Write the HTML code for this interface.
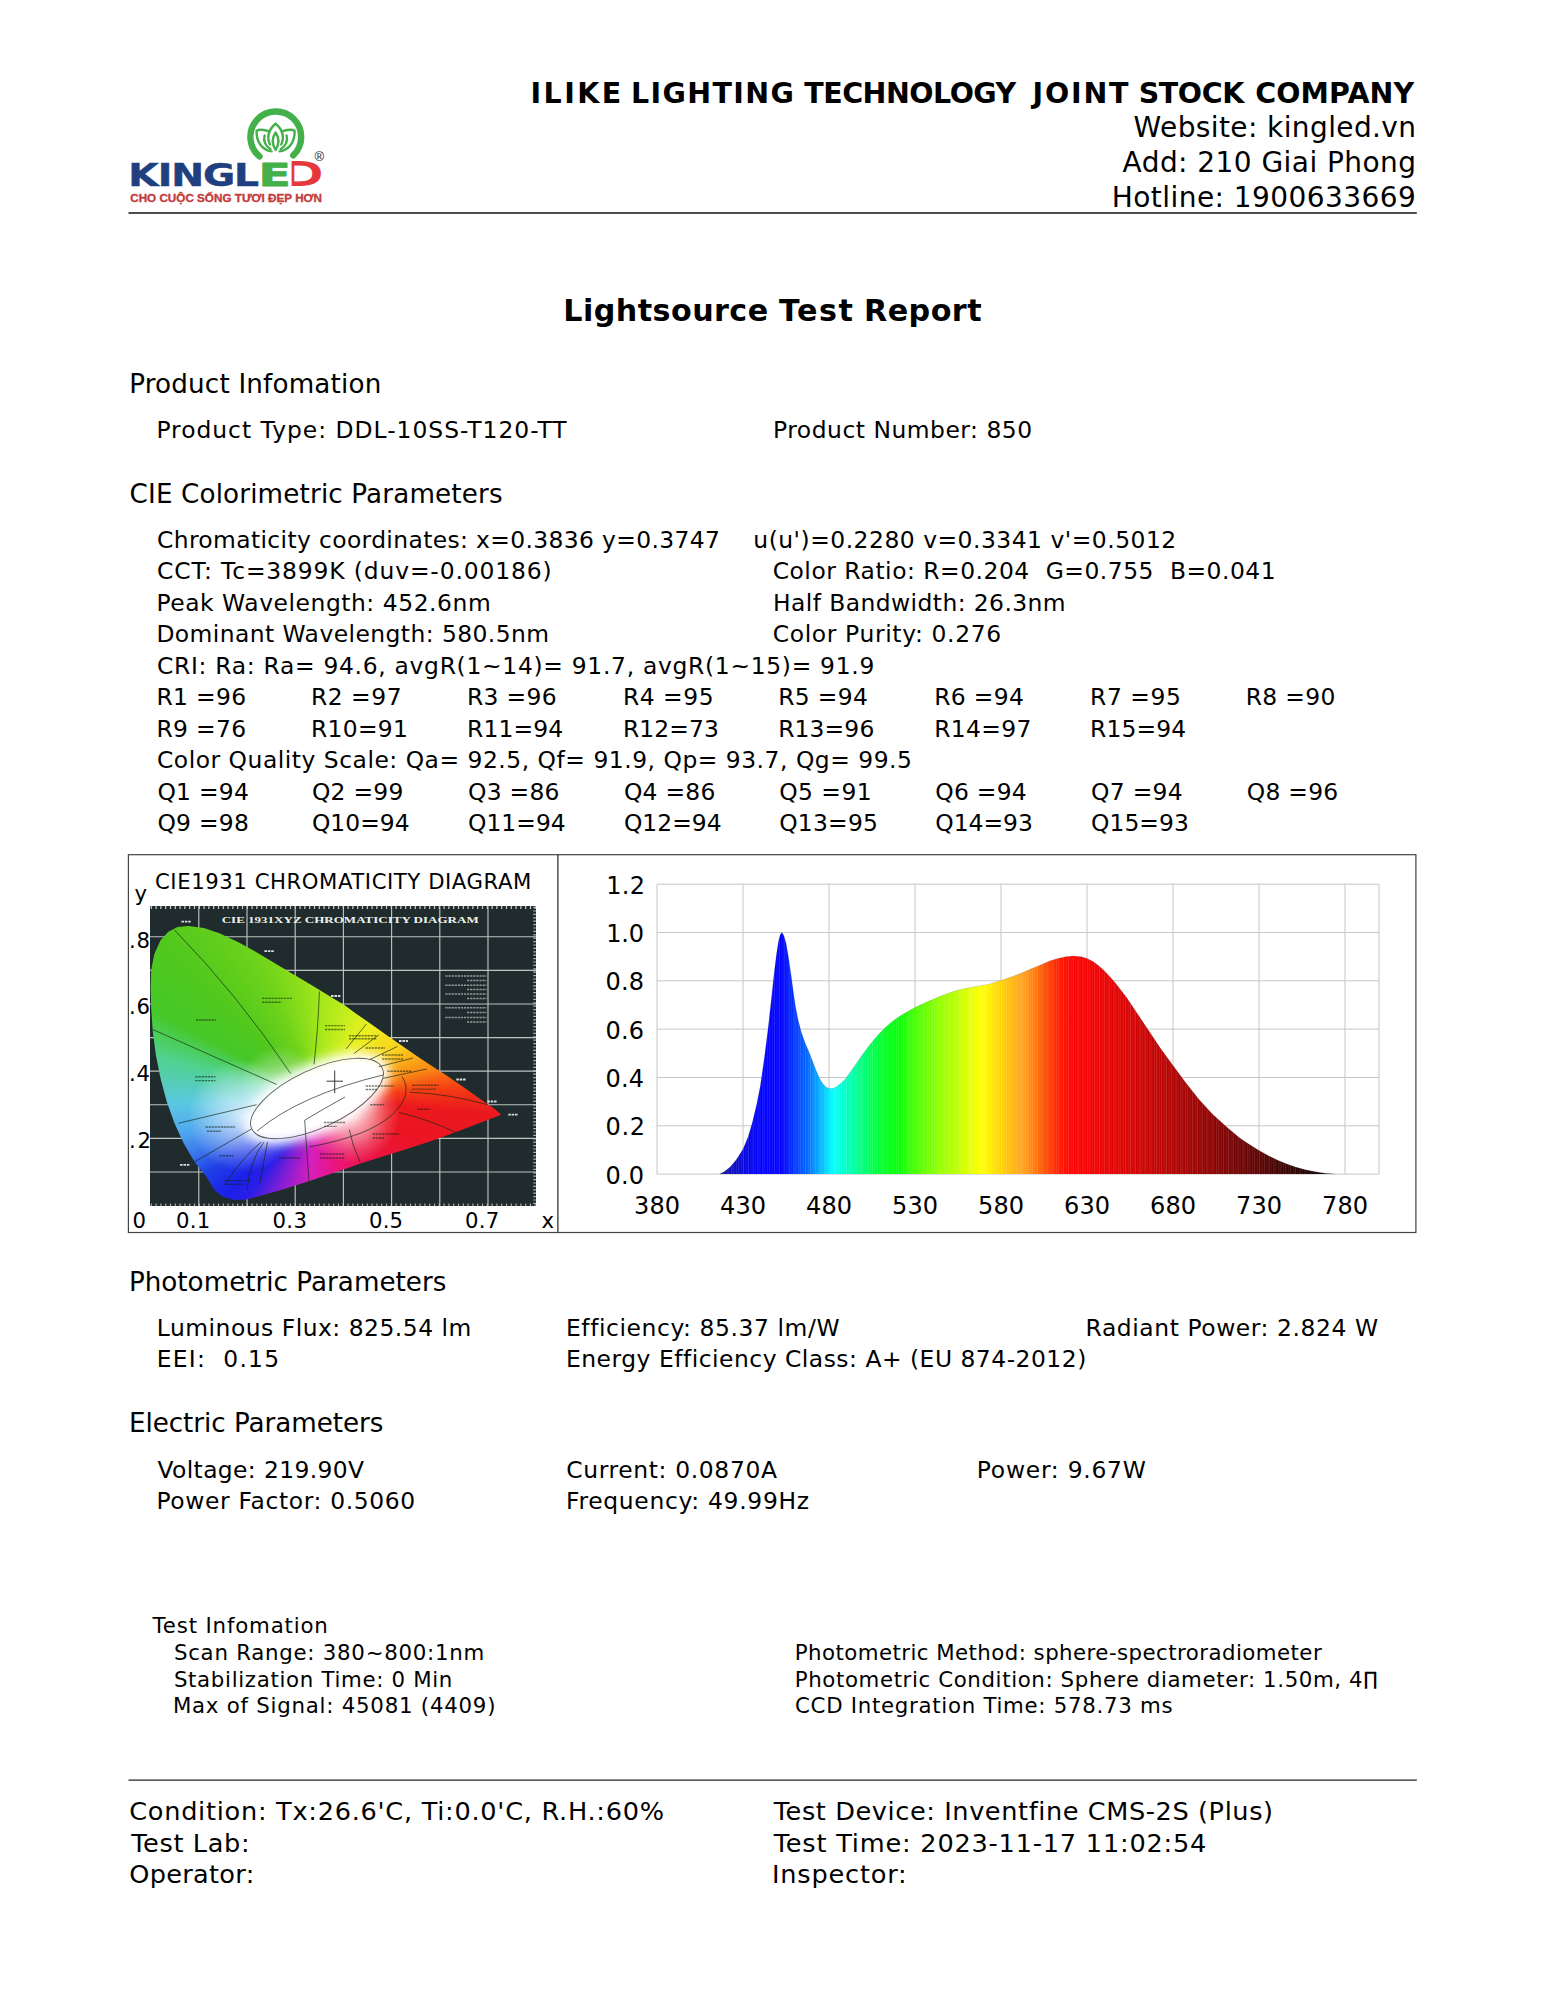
<!DOCTYPE html>
<html lang="en"><head><meta charset="utf-8"><title>Lightsource Test Report</title>
<style>
html,body{margin:0;padding:0;background:#fff}
body{width:1545px;height:2000px;position:relative;overflow:hidden;font-family:'DejaVu Sans','Liberation Sans',sans-serif}
#pg{position:absolute;left:0;top:0}
#pg{font-family:'DejaVu Sans','Liberation Sans',sans-serif}#pg text{white-space:pre}
#cie{position:absolute;left:150.3px;top:906.0px;width:386.0px;height:300.3px;background:#1f2b2c;overflow:hidden}#hs{position:absolute;left:0;top:0;width:100%;height:100%;clip-path:polygon(83.7px 294.0px,72.2px 290.5px,64.4px 284.6px,56.7px 271.5px,44.3px 256.0px,33.5px 237.4px,24.2px 217.3px,16.4px 195.6px,10.2px 172.3px,5.6px 149.0px,2.5px 125.8px,0.9px 102.5px,0.3px 80.8px,0.9px 63.8px,4.0px 48.3px,10.2px 34.3px,18.0px 25.8px,27.3px 21.1px,38.1px 20.0px,53.6px 21.9px,69.1px 27.3px,87.7px 35.9px,103.2px 44.4px,118.7px 53.7px,134.2px 63.0px,149.7px 72.3px,165.2px 81.6px,180.7px 90.9px,194.7px 99.4px,205.2px 107.2px,220.7px 118.0px,236.2px 128.9px,251.7px 139.7px,267.2px 150.6px,282.7px 160.7px,298.2px 170.7px,313.7px 181.6px,329.2px 192.4px,344.7px 203.3px,350.9px 208.7px,313.7px 223.0px,282.7px 234.5px,251.7px 244.5px,211.7px 257.0px,199.7px 261.3px,161.5px 274.3px,129.1px 284.6px,96.7px 293.5px);background:conic-gradient(from 0deg at 167.7px 192.0px,#a0e61a 0deg,#c8ee1e 20deg,#ebf01e 36deg,#fad21e 58deg,#fa8c14 75deg,#f53c14 86deg,#eb191e 95deg,#eb1423 112deg,#eb1450 146deg,#eb1478 163deg,#d71ebe 186deg,#8c1ed2 201deg,#5a1edc 209deg,#2a1ee6 215deg,#1a20e8 224deg,#2040e6 236deg,#3a78eb 246deg,#50a8ee 256deg,#5ac8e1 268deg,#50d28c 285deg,#46c828 298deg,#50c81e 315deg,#6ed21a 336deg,#a0e61a 360deg)}
</style></head>
<body>
<div id="cie"><svg width="386" height="300.3" viewBox="150.3 906 386 300.3" style="position:absolute;left:0;top:0"><path d="M199.1 906V1207M247.3 906V1207M295.5 906V1207M343.7 906V1207M391.9 906V1207M440.1 906V1207M488.3 906V1207M150 936.8H537M150 970.4H537M150 1004.0H537M150 1037.6H537M150 1071.2H537M150 1104.8H537M150 1138.4H537M150 1172.0H537" stroke="#bcc3c1" stroke-width="1.15" fill="none"/><path d="M151 907.5H536" stroke="#c9cfcd" stroke-width="3" stroke-dasharray="1.2 3.6" fill="none"/><path d="M151 1205H536" stroke="#c9cfcd" stroke-width="3" stroke-dasharray="1.2 3.6" fill="none" opacity=".8"/><path d="M535 907V1206" stroke="#c9cfcd" stroke-width="3" stroke-dasharray="1.2 2.2" fill="none" opacity=".8"/></svg><div id="hs"></div></div>
<svg id="pg" width="1545" height="2000" viewBox="0 0 1545 2000">
<path d="M128.5 213.1H1416.8" stroke="#111" stroke-width="1.5" fill="none"/>
<path d="M128.5 1780.1H1416.8" stroke="#222" stroke-width="1.2" fill="none"/>
<rect x="128.4" y="854.7" width="1287.5" height="377.8" fill="none" stroke="#444" stroke-width="1.2"/>
<path d="M557.9 854.7V1232.5" stroke="#222" stroke-width="1.2" fill="none"/>
<g>
<text transform="translate(128.3 185.7) scale(1.205 1)" font-family="'DejaVu Sans',sans-serif" font-weight="bold" font-size="32.6" fill="#1f3f7f" stroke="#1f3f7f" stroke-width=".5" letter-spacing="-0.9">KINGL</text>
<text transform="translate(282.6 185.4) scale(1.66 1)" font-family="'DejaVu Sans',sans-serif" font-size="31.2" fill="#e5383b" stroke="#e5383b" stroke-width="1.9" stroke-linejoin="round">D</text>
<rect x="284" y="158" width="7.6" height="31" fill="#fff"/>
<text transform="translate(258.6 185.7) scale(1.45 1)" font-family="'DejaVu Sans',sans-serif" font-weight="bold" font-size="32.6" fill="#43b04a" stroke="#43b04a" stroke-width=".8" stroke-linejoin="round">E</text>
<path d="M259.5 156.4A25.4 25.4 0 1 1 293.2 155.4" fill="none" stroke="#43b04a" stroke-width="6.4" stroke-linecap="round"/>
<g fill="none" stroke="#43b04a" stroke-width="2.4" stroke-linejoin="round" stroke-linecap="round"><path d="M275.6 123.8C268.5 129.5 266.5 137.5 270 144.5M275.6 123.8C282.7 129.5 284.7 137.5 281.2 144.5"/><path d="M275.6 132.5C271.8 138 271.8 144 275.6 149.8C279.4 144 279.4 138 275.6 132.5Z"/><path d="M268 131C262 129.3 258 129.8 256.6 130.8C256.2 142 262 150 271.6 151.4M264.6 135.5C263 141 265.8 146.5 270.5 149"/><path d="M283.2 131C289.2 129.3 293.2 129.8 294.6 130.8C295 142 289.2 150 279.6 151.4M286.6 135.5C288.2 141 285.4 146.5 280.7 149"/></g>
<text x="314.4" y="161.4" font-size="13" fill="#222" font-family="'Liberation Sans',sans-serif">®</text>
<text x="130.2" y="201.8" font-family="'Liberation Sans',sans-serif" font-weight="bold" font-size="10.4" fill="#c23a3c" stroke="#c23a3c" stroke-width=".3" textLength="191.8" lengthAdjust="spacingAndGlyphs">CHO CUỘC SỐNG TƯƠI ĐẸP HƠN</text>
</g>
<defs><linearGradient id="sg" gradientUnits="userSpaceOnUse" x1="718.9" y1="0" x2="1338.1" y2="0"><stop offset="0.0000" stop-color="#141496"/><stop offset="0.0222" stop-color="#0c0cc0"/><stop offset="0.0444" stop-color="#0404e6"/><stop offset="0.0667" stop-color="#0000ff"/><stop offset="0.1028" stop-color="#0000ff"/><stop offset="0.1222" stop-color="#0038ff"/><stop offset="0.1417" stop-color="#0064ff"/><stop offset="0.1639" stop-color="#00b4ff"/><stop offset="0.1853" stop-color="#00ffff"/><stop offset="0.2000" stop-color="#00ffd0"/><stop offset="0.2183" stop-color="#00ffa0"/><stop offset="0.2472" stop-color="#00ff50"/><stop offset="0.2722" stop-color="#00ff18"/><stop offset="0.2917" stop-color="#08ff08"/><stop offset="0.3167" stop-color="#46ff00"/><stop offset="0.3583" stop-color="#96ff00"/><stop offset="0.3861" stop-color="#beff00"/><stop offset="0.4056" stop-color="#e6ff00"/><stop offset="0.4264" stop-color="#ffff00"/><stop offset="0.4417" stop-color="#ffe600"/><stop offset="0.4556" stop-color="#ffd200"/><stop offset="0.4750" stop-color="#ffb414"/><stop offset="0.4917" stop-color="#ffa01e"/><stop offset="0.5111" stop-color="#ff780a"/><stop offset="0.5250" stop-color="#ff5000"/><stop offset="0.5389" stop-color="#ff3200"/><stop offset="0.5528" stop-color="#ff1400"/><stop offset="0.5694" stop-color="#ff0000"/><stop offset="0.6222" stop-color="#ea0000"/><stop offset="0.6639" stop-color="#d70000"/><stop offset="0.7333" stop-color="#b20000"/><stop offset="0.8111" stop-color="#820000"/><stop offset="0.8722" stop-color="#5a0000"/><stop offset="0.9222" stop-color="#320000"/><stop offset="0.9750" stop-color="#0c0000"/><stop offset="1.0000" stop-color="#000000"/></linearGradient></defs>
<path d="M657 1174.1H1379M657 1125.8H1379M657 1077.5H1379M657 1029.1H1379M657 980.8H1379M657 932.5H1379M657 884.2H1379M657.0 884.2V1174.1M743.0 884.2V1174.1M829.0 884.2V1174.1M915.0 884.2V1174.1M1001.0 884.2V1174.1M1087.0 884.2V1174.1M1173.0 884.2V1174.1M1259.0 884.2V1174.1M1345.0 884.2V1174.1M1379 884.2V1174.1" stroke="#c6c6c8" stroke-width="1" fill="none"/>
<polygon points="719.6,1174.1 724.1,1171.7 729.9,1167.3 736.1,1160.1 743.0,1149.2 748.2,1136.7 752.5,1121.9 756.8,1104.0 760.4,1085.7 764.5,1056.9 768.3,1027.0 771.4,998.9 774.0,974.8 776.5,954.2 778.6,941.0 780.3,934.4 781.9,932.5 783.8,935.4 786.0,943.1 788.4,956.7 791.0,974.8 793.2,991.0 795.5,1006.4 798.0,1019.5 801.1,1031.6 804.9,1042.4 809.0,1051.9 812.5,1061.0 815.9,1070.0 819.4,1077.9 822.6,1083.5 825.9,1087.1 829.0,1088.6 832.4,1088.6 836.2,1086.9 840.7,1083.5 845.3,1078.9 850.8,1071.4 856.5,1063.2 862.2,1055.0 867.9,1047.3 873.7,1040.0 879.2,1033.7 885.8,1027.0 892.8,1021.2 898.5,1017.1 904.2,1013.4 915.0,1007.6 926.7,1002.1 940.3,996.3 953.9,991.2 963.2,989.0 972.1,987.3 987.9,984.4 1001.0,980.6 1017.3,974.8 1033.2,968.0 1040.6,964.9 1050.2,960.8 1057.8,958.4 1065.5,956.7 1073.4,956.1 1081.3,956.7 1087.0,958.4 1092.7,961.3 1098.4,965.4 1104.0,970.4 1109.4,976.2 1115.2,982.8 1126.6,997.5 1137.9,1014.4 1149.3,1031.6 1160.6,1048.5 1173.0,1065.4 1185.4,1082.3 1199.0,1099.4 1212.6,1114.2 1226.1,1126.5 1239.7,1137.9 1248.7,1144.1 1259.0,1150.4 1268.5,1155.7 1278.3,1160.6 1287.4,1164.2 1296.3,1167.3 1306.3,1170.0 1316.8,1171.9 1326.1,1173.4 1334.9,1174.1" fill="url(#sg)"/>
<defs><pattern id="st" width="5.16" height="20" patternUnits="userSpaceOnUse"><rect x="0" width=".5" height="20" fill="#fff" opacity=".28"/><rect x="1.72" width=".45" height="20" fill="#fff" opacity=".12"/><rect x="3.44" width=".5" height="20" fill="#fff" opacity=".2"/></pattern></defs>
<polygon points="719.6,1174.1 724.1,1171.7 729.9,1167.3 736.1,1160.1 743.0,1149.2 748.2,1136.7 752.5,1121.9 756.8,1104.0 760.4,1085.7 764.5,1056.9 768.3,1027.0 771.4,998.9 774.0,974.8 776.5,954.2 778.6,941.0 780.3,934.4 781.9,932.5 783.8,935.4 786.0,943.1 788.4,956.7 791.0,974.8 793.2,991.0 795.5,1006.4 798.0,1019.5 801.1,1031.6 804.9,1042.4 809.0,1051.9 812.5,1061.0 815.9,1070.0 819.4,1077.9 822.6,1083.5 825.9,1087.1 829.0,1088.6 832.4,1088.6 836.2,1086.9 840.7,1083.5 845.3,1078.9 850.8,1071.4 856.5,1063.2 862.2,1055.0 867.9,1047.3 873.7,1040.0 879.2,1033.7 885.8,1027.0 892.8,1021.2 898.5,1017.1 904.2,1013.4 915.0,1007.6 926.7,1002.1 940.3,996.3 953.9,991.2 963.2,989.0 972.1,987.3 987.9,984.4 1001.0,980.6 1017.3,974.8 1033.2,968.0 1040.6,964.9 1050.2,960.8 1057.8,958.4 1065.5,956.7 1073.4,956.1 1081.3,956.7 1087.0,958.4 1092.7,961.3 1098.4,965.4 1104.0,970.4 1109.4,976.2 1115.2,982.8 1126.6,997.5 1137.9,1014.4 1149.3,1031.6 1160.6,1048.5 1173.0,1065.4 1185.4,1082.3 1199.0,1099.4 1212.6,1114.2 1226.1,1126.5 1239.7,1137.9 1248.7,1144.1 1259.0,1150.4 1268.5,1155.7 1278.3,1160.6 1287.4,1164.2 1296.3,1167.3 1306.3,1170.0 1316.8,1171.9 1326.1,1173.4 1334.9,1174.1" fill="url(#st)"/>
<polyline points="719.6,1174.1 724.1,1171.7 729.9,1167.3 736.1,1160.1 743.0,1149.2 748.2,1136.7 752.5,1121.9 756.8,1104.0 760.4,1085.7 764.5,1056.9 768.3,1027.0 771.4,998.9 774.0,974.8 776.5,954.2 778.6,941.0 780.3,934.4 781.9,932.5 783.8,935.4 786.0,943.1 788.4,956.7 791.0,974.8 793.2,991.0 795.5,1006.4 798.0,1019.5 801.1,1031.6 804.9,1042.4 809.0,1051.9 812.5,1061.0 815.9,1070.0 819.4,1077.9 822.6,1083.5 825.9,1087.1 829.0,1088.6 832.4,1088.6 836.2,1086.9 840.7,1083.5 845.3,1078.9 850.8,1071.4 856.5,1063.2 862.2,1055.0 867.9,1047.3 873.7,1040.0 879.2,1033.7 885.8,1027.0 892.8,1021.2 898.5,1017.1 904.2,1013.4 915.0,1007.6 926.7,1002.1 940.3,996.3 953.9,991.2 963.2,989.0 972.1,987.3 987.9,984.4 1001.0,980.6 1017.3,974.8 1033.2,968.0 1040.6,964.9 1050.2,960.8 1057.8,958.4 1065.5,956.7 1073.4,956.1 1081.3,956.7 1087.0,958.4 1092.7,961.3 1098.4,965.4 1104.0,970.4 1109.4,976.2 1115.2,982.8 1126.6,997.5 1137.9,1014.4 1149.3,1031.6 1160.6,1048.5 1173.0,1065.4 1185.4,1082.3 1199.0,1099.4 1212.6,1114.2 1226.1,1126.5 1239.7,1137.9 1248.7,1144.1 1259.0,1150.4 1268.5,1155.7 1278.3,1160.6 1287.4,1164.2 1296.3,1167.3 1306.3,1170.0 1316.8,1171.9 1326.1,1173.4 1334.9,1174.1" fill="none" stroke="#000" stroke-opacity=".15" stroke-width=".8"/>
<defs><clipPath id="hc"><polygon points="234.0,1200.0 222.5,1196.5 214.7,1190.6 207.0,1177.5 194.6,1162.0 183.8,1143.4 174.5,1123.3 166.7,1101.6 160.5,1078.3 155.9,1055.0 152.8,1031.8 151.2,1008.5 150.6,986.8 151.2,969.8 154.3,954.3 160.5,940.3 168.3,931.8 177.6,927.1 188.4,926.0 203.9,927.9 219.4,933.3 238.0,941.9 253.5,950.4 269.0,959.7 284.5,969.0 300.0,978.3 315.5,987.6 331.0,996.9 345.0,1005.4 355.5,1013.2 371.0,1024.0 386.5,1034.9 402.0,1045.7 417.5,1056.6 433.0,1066.7 448.5,1076.7 464.0,1087.6 479.5,1098.4 495.0,1109.3 501.2,1114.7 464.0,1129.0 433.0,1140.5 402.0,1150.5 362.0,1163.0 350.0,1167.3 311.8,1180.3 279.4,1190.6 247.0,1199.5"/></clipPath><radialGradient id="wg" cx="0" cy="0" r="1" gradientUnits="userSpaceOnUse" gradientTransform="translate(316 1099) rotate(-25) scale(118 70)"><stop offset="0" stop-color="#fff"/><stop offset=".46" stop-color="#fff"/><stop offset=".6" stop-color="#fff" stop-opacity=".8"/><stop offset=".8" stop-color="#fff" stop-opacity=".3"/><stop offset="1" stop-color="#fff" stop-opacity="0"/></radialGradient><radialGradient id="eg" cx="0" cy="0" r="1" gradientUnits="userSpaceOnUse" gradientTransform="translate(300 1080) scale(230 200)"><stop offset="0" stop-color="#fff" stop-opacity="0"/><stop offset=".7" stop-color="#000" stop-opacity="0"/><stop offset="1" stop-color="#000" stop-opacity=".18"/></radialGradient><radialGradient id="bg2" cx="0" cy="0" r="1" gradientUnits="userSpaceOnUse" gradientTransform="translate(296 1080) rotate(-35) scale(200 150)"><stop offset="0" stop-color="#fff" stop-opacity=".5"/><stop offset=".45" stop-color="#fff" stop-opacity=".32"/><stop offset="1" stop-color="#fff" stop-opacity="0"/></radialGradient><filter id="bl" x="-30%" y="-50%" width="160%" height="200%"><feGaussianBlur stdDeviation="5.5"/></filter><radialGradient id="b1"><stop offset="0" stop-color="#fff" stop-opacity=".75"/><stop offset=".5" stop-color="#fff" stop-opacity=".4"/><stop offset="1" stop-color="#fff" stop-opacity="0"/></radialGradient><radialGradient id="b2"><stop offset="0" stop-color="#fff" stop-opacity=".85"/><stop offset=".45" stop-color="#fff" stop-opacity=".5"/><stop offset=".75" stop-color="#fff" stop-opacity=".18"/><stop offset="1" stop-color="#fff" stop-opacity="0"/></radialGradient><radialGradient id="b3"><stop offset="0" stop-color="#fff" stop-opacity=".6"/><stop offset=".6" stop-color="#fff" stop-opacity=".25"/><stop offset="1" stop-color="#fff" stop-opacity="0"/></radialGradient></defs>
<g clip-path="url(#hc)"><circle cx="244" cy="1116" r="56" fill="url(#b1)"/><circle cx="350" cy="1113" r="50" fill="url(#b2)"/><circle cx="280" cy="1086" r="40" fill="url(#b3)"/><ellipse rx="79" ry="35" transform="translate(317 1098.5) rotate(-25)" fill="#fff" filter="url(#bl)"/>
<path d="M174.5 930Q238 995 290.7 1073.6M152.8 1029.5L276.8 1084.5M178.3 1123.3L256.6 1104.7M191.5 1163.6L252 1128.7M225.6 1183.7Q240 1160 261.3 1141.9M259.7 1183.7L267.5 1141.9M247 1190Q250 1160 264 1142M319.4 991.5Q318 1030 314 1064.3M304.7 1120.2L309.3 1186.8M304.7 1120.2Q325 1108 345 1097M366.4 1024L346.2 1048.8M378.8 1034.9L354 1053.5M397.4 1046.5L369.5 1059.7M412.9 1058.1L378.8 1066.7M426.8 1069L383.4 1078.3M402 1076.7Q414 1095 391.2 1115.5T309 1147M409.8 1092.2Q450 1094 487.3 1104.7M398.9 1112.4Q430 1120 456.3 1132.6M349.3 1129.5Q352 1145 360 1162M257 1131Q300 1095 383 1075" fill="none" stroke="#142814" stroke-opacity=".75" stroke-width=".9"/>
<ellipse cx="0" cy="0" rx="72" ry="29" transform="translate(317 1098.5) rotate(-25)" fill="none" stroke="#333" stroke-opacity=".8" stroke-width=".9"/>
</g>
<path d="M196.0 1020.0H216.0M262.0 998.4H292.0M262.0 1002.3H281.4M195.4 1076.7H215.5M195.4 1080.6H215.5M205.5 1127.0H235.0M207.0 1131.3H221.0M219.4 1155.8H233.4M224.0 1180.6H250.4M224.0 1184.4H244.0M279.0 1158.0H300.0M320.0 1154.0H345.0M320.0 1158.0H345.0M325.0 1025.6H345.0M325.0 1029.5H345.0M324.0 1122.5H345.0M324.0 1126.4H337.0M349.0 1035.7H377.0M349.0 1038.8H377.0M365.6 1048.0H385.0M382.0 1055.0H403.6M382.0 1059.0H403.6M387.3 1071.3H411.3M365.6 1086.0H394.3M365.6 1089.5H377.0M412.0 1085.3H438.4M412.0 1089.1H436.0M370.2 1104.7H384.2M417.5 1109.3H430.0M372.6 1134.0H399.0M372.6 1138.0H385.0" stroke="#0c200c" stroke-opacity=".55" stroke-width="1.4" stroke-dasharray="2.4 .7" fill="none"/>
<path d="M181.4 921.7H191.5M264.4 951.2H274.5M180.0 1164.8H190.0M331.0 996.0H341.0M399.0 1041.0H408.0M456.3 1079.5H466.4M487.3 1101.5H496.6M508.2 1114.7H518.3" stroke="#e8eeee" stroke-opacity=".9" stroke-width="1.8" stroke-dasharray="2.6 .8" fill="none"/>
<path d="M445.4 976.0H486.5M467.0 980.6H486.5M445.4 985.3H486.5M467.0 989.6H486.5M445.4 994.1H486.5M467.0 998.4H486.5M445.4 1007.8H486.5M467.0 1012.4H486.5M445.4 1017.5H486.5M467.0 1022.0H486.5" stroke="#dfe6e6" stroke-opacity=".6" stroke-width="1.5" stroke-dasharray="2.2 .9" fill="none"/>
<path d="M326.5 1081.2H343M334.7 1070.5V1093" stroke="#222" stroke-width=".9" fill="none"/>
<text x="221.7" y="923.2" font-family="'Liberation Serif',serif" font-weight="bold" font-size="9.2" fill="#eef2ee" textLength="257" lengthAdjust="spacingAndGlyphs">CIE 1931XYZ CHROMATICITY DIAGRAM</text>
<text y="103.3" font-size="28.50" font-weight="bold"><tspan x="530.5" letter-spacing="2.44">ILIKE</tspan> <tspan x="631.1" letter-spacing="1.34">LIGHTING</tspan> <tspan x="804.3" letter-spacing="-0.51">TECHNOLOGY</tspan> <tspan x="1032.6" letter-spacing="1.80">JOINT</tspan> <tspan x="1138.7" letter-spacing="-0.40">STOCK</tspan> <tspan x="1255.2" letter-spacing="0.12">COMPANY</tspan></text>
<text x="1133.6" y="137.3" font-size="28.00" letter-spacing="0.39">Website: kingled.vn</text>
<text x="1122.6" y="172.2" font-size="28.00" letter-spacing="0.44">Add: 210 Giai Phong</text>
<text x="1111.8" y="207.0" font-size="28.00" letter-spacing="0.44">Hotline: 1900633669</text>
<text y="320.6" font-size="30.20" font-weight="bold"><tspan x="563.3" letter-spacing="0.43">Lightsource</tspan> <tspan x="779.0" letter-spacing="1.53">Test</tspan> <tspan x="864.0" letter-spacing="0.45">Report</tspan></text>
<text x="129.2" y="392.6" font-size="26.20" letter-spacing="0.18">Product Infomation</text>
<text x="156.4" y="437.5" font-size="23.40" letter-spacing="0.99">Product Type: DDL-10SS-T120-TT</text>
<text x="773.0" y="437.5" font-size="23.40" letter-spacing="0.52">Product Number: 850</text>
<text x="129.6" y="502.7" font-size="26.20" letter-spacing="0.15">CIE Colorimetric Parameters</text>
<text x="157.0" y="547.8" font-size="23.40" letter-spacing="0.37">Chromaticity coordinates: x=0.3836 y=0.3747</text>
<text x="753.3" y="547.8" font-size="23.40" letter-spacing="0.51">u(u')=0.2280 v=0.3341 v'=0.5012</text>
<text x="157.0" y="579.3" font-size="23.40" letter-spacing="0.86">CCT: Tc=3899K (duv=-0.00186)</text>
<text x="772.7" y="579.3" font-size="23.40" letter-spacing="0.52">Color Ratio: R=0.204  G=0.755  B=0.041</text>
<text x="156.4" y="610.8" font-size="23.40" letter-spacing="0.55">Peak Wavelength: 452.6nm</text>
<text x="773.0" y="610.8" font-size="23.40" letter-spacing="0.43">Half Bandwidth: 26.3nm</text>
<text x="156.4" y="642.3" font-size="23.40" letter-spacing="0.44">Dominant Wavelength: 580.5nm</text>
<text x="772.7" y="642.3" font-size="23.40" letter-spacing="0.65">Color Purity: 0.276</text>
<text x="157.0" y="673.8" font-size="23.40" letter-spacing="0.70">CRI: Ra: Ra= 94.6, avgR(1~14)= 91.7, avgR(1~15)= 91.9</text>
<text x="157.0" y="768.2" font-size="23.40" letter-spacing="0.52">Color Quality Scale: Qa= 92.5, Qf= 91.9, Qp= 93.7, Qg= 99.5</text>
<text x="128.9" y="1290.8" font-size="26.20" letter-spacing="0.01">Photometric Parameters</text>
<text x="156.8" y="1335.6" font-size="23.40" letter-spacing="0.51">Luminous Flux: 825.54 lm</text>
<text x="566.0" y="1335.6" font-size="23.40" letter-spacing="0.58">Efficiency: 85.37 lm/W</text>
<text x="1085.6" y="1335.6" font-size="23.40" letter-spacing="0.58">Radiant Power: 2.824 W</text>
<text x="156.8" y="1367.0" font-size="23.40" letter-spacing="1.22">EEI:  0.15</text>
<text x="566.0" y="1367.0" font-size="23.40" letter-spacing="0.51">Energy Efficiency Class: A+ (EU 874-2012)</text>
<text x="128.9" y="1432.4" font-size="26.20" letter-spacing="-0.04">Electric Parameters</text>
<text x="157.5" y="1477.5" font-size="23.40" letter-spacing="0.37">Voltage: 219.90V</text>
<text x="566.2" y="1477.5" font-size="23.40" letter-spacing="0.65">Current: 0.0870A</text>
<text x="976.8" y="1477.5" font-size="23.40" letter-spacing="0.75">Power: 9.67W</text>
<text x="156.4" y="1508.8" font-size="23.40" letter-spacing="0.65">Power Factor: 0.5060</text>
<text x="566.0" y="1508.8" font-size="23.40" letter-spacing="0.69">Frequency: 49.99Hz</text>
<text x="152.6" y="1633.2" font-size="21.30" letter-spacing="0.83">Test Infomation</text>
<text x="173.9" y="1659.9" font-size="21.30" letter-spacing="0.74">Scan Range: 380~800:1nm</text>
<text x="173.9" y="1686.5" font-size="21.30" letter-spacing="0.68">Stabilization Time: 0 Min</text>
<text x="172.9" y="1713.1" font-size="21.30" letter-spacing="0.76">Max of Signal: 45081 (4409)</text>
<text x="794.7" y="1659.9" font-size="21.30" letter-spacing="0.45">Photometric Method: sphere-spectroradiometer</text>
<text x="794.7" y="1686.5" font-size="21.30" letter-spacing="0.62">Photometric Condition: Sphere diameter: 1.50m, 4<tspan font-size="18.6" dy="-1.6">∏</tspan></text>
<text x="795.0" y="1713.1" font-size="21.30" letter-spacing="0.71">CCD Integration Time: 578.73 ms</text>
<text x="129.2" y="1820.4" font-size="25.60" letter-spacing="0.73">Condition: Tx:26.6'C, Ti:0.0'C, R.H.:60%</text>
<text x="131.2" y="1851.7" font-size="25.60" letter-spacing="0.63">Test Lab:</text>
<text x="129.2" y="1883.0" font-size="25.60" letter-spacing="0.30">Operator:</text>
<text x="773.7" y="1820.4" font-size="25.60" letter-spacing="0.59">Test Device: Inventfine CMS-2S (Plus)</text>
<text x="773.7" y="1851.7" font-size="25.60" letter-spacing="0.79">Test Time: 2023-11-17 11:02:54</text>
<text x="772.0" y="1883.0" font-size="25.60" letter-spacing="0.79">Inspector:</text>
<text x="155.0" y="888.7" font-size="21.20" letter-spacing="0.57">CIE1931 CHROMATICITY DIAGRAM</text>
<text x="134.5" y="901.4" font-size="21.20" letter-spacing="0.40">y</text>
<text x="129.0" y="947.7" font-size="21.20" letter-spacing="0.77">.8</text>
<text x="129.0" y="1014.4" font-size="21.20" letter-spacing="0.77">.6</text>
<text x="129.0" y="1081.2" font-size="21.20" letter-spacing="0.77">.4</text>
<text x="129.0" y="1147.8" font-size="21.20" letter-spacing="1.77">.2</text>
<text x="132.6" y="1228.0" font-size="21.20">0</text>
<text x="175.9" y="1228.0" font-size="21.20" letter-spacing="0.29">0.1</text>
<text x="272.4" y="1228.0" font-size="21.20" letter-spacing="0.39">0.3</text>
<text x="369.0" y="1228.0" font-size="21.20" letter-spacing="0.19">0.5</text>
<text x="465.0" y="1228.0" font-size="21.20" letter-spacing="0.24">0.7</text>
<text x="541.4" y="1228.0" font-size="21.20">x</text>
<text x="156.4" y="705.2" font-size="23.40" letter-spacing="0.35">R1 =96</text>
<text x="157.4" y="799.7" font-size="23.40" letter-spacing="0.28">Q1 =94</text>
<text x="310.9" y="705.2" font-size="23.40" letter-spacing="0.55">R2 =97</text>
<text x="311.9" y="799.7" font-size="23.40" letter-spacing="0.28">Q2 =99</text>
<text x="467.0" y="705.2" font-size="23.40" letter-spacing="0.35">R3 =96</text>
<text x="468.0" y="799.7" font-size="23.40" letter-spacing="0.28">Q3 =86</text>
<text x="622.9" y="705.2" font-size="23.40" letter-spacing="0.55">R4 =95</text>
<text x="623.9" y="799.7" font-size="23.40" letter-spacing="0.28">Q4 =86</text>
<text x="778.2" y="705.2" font-size="23.40" letter-spacing="0.35">R5 =94</text>
<text x="779.2" y="799.7" font-size="23.40" letter-spacing="0.48">Q5 =91</text>
<text x="934.2" y="705.2" font-size="23.40" letter-spacing="0.35">R6 =94</text>
<text x="935.2" y="799.7" font-size="23.40" letter-spacing="0.28">Q6 =94</text>
<text x="1090.1" y="705.2" font-size="23.40" letter-spacing="0.55">R7 =95</text>
<text x="1091.1" y="799.7" font-size="23.40" letter-spacing="0.28">Q7 =94</text>
<text x="1245.7" y="705.2" font-size="23.40" letter-spacing="0.35">R8 =90</text>
<text x="1246.7" y="799.7" font-size="23.40" letter-spacing="0.28">Q8 =96</text>
<text x="156.4" y="736.7" font-size="23.40" letter-spacing="0.35">R9 =76</text>
<text x="157.4" y="831.2" font-size="23.40" letter-spacing="0.28">Q9 =98</text>
<text x="310.9" y="736.7" font-size="23.40" letter-spacing="0.34">R10=91</text>
<text x="311.9" y="831.2" font-size="23.40" letter-spacing="0.03">Q10=94</text>
<text x="467.0" y="736.7" font-size="23.40" letter-spacing="0.14">R11=94</text>
<text x="468.0" y="831.2" font-size="23.40" letter-spacing="0.03">Q11=94</text>
<text x="622.9" y="736.7" font-size="23.40" letter-spacing="0.14">R12=73</text>
<text x="623.9" y="831.2" font-size="23.40" letter-spacing="0.03">Q12=94</text>
<text x="778.2" y="736.7" font-size="23.40" letter-spacing="0.14">R13=96</text>
<text x="779.2" y="831.2" font-size="23.40" letter-spacing="0.23">Q13=95</text>
<text x="934.2" y="736.7" font-size="23.40" letter-spacing="0.34">R14=97</text>
<text x="935.2" y="831.2" font-size="23.40" letter-spacing="0.03">Q14=93</text>
<text x="1090.1" y="736.7" font-size="23.40" letter-spacing="0.14">R15=94</text>
<text x="1091.1" y="831.2" font-size="23.40" letter-spacing="0.03">Q15=93</text>
<text x="605.6" y="1183.6" font-size="24.00" letter-spacing="0.18">0.0</text>
<text x="605.6" y="1135.3" font-size="24.00" letter-spacing="0.68">0.2</text>
<text x="605.6" y="1087.0" font-size="24.00" letter-spacing="0.18">0.4</text>
<text x="605.6" y="1038.6" font-size="24.00" letter-spacing="0.18">0.6</text>
<text x="605.6" y="990.3" font-size="24.00" letter-spacing="0.18">0.8</text>
<text x="606.2" y="942.0" font-size="24.00" letter-spacing="-0.12">1.0</text>
<text x="606.2" y="893.7" font-size="24.00" letter-spacing="0.38">1.2</text>
<text x="634.1" y="1213.5" font-size="24.00" letter-spacing="0.03">380</text>
<text x="720.1" y="1213.5" font-size="24.00" letter-spacing="0.03">430</text>
<text x="806.1" y="1213.5" font-size="24.00" letter-spacing="0.03">480</text>
<text x="892.1" y="1213.5" font-size="24.00" letter-spacing="0.03">530</text>
<text x="978.1" y="1213.5" font-size="24.00" letter-spacing="0.03">580</text>
<text x="1064.1" y="1213.5" font-size="24.00" letter-spacing="0.03">630</text>
<text x="1150.1" y="1213.5" font-size="24.00" letter-spacing="0.03">680</text>
<text x="1236.1" y="1213.5" font-size="24.00" letter-spacing="0.03">730</text>
<text x="1322.1" y="1213.5" font-size="24.00" letter-spacing="0.03">780</text>
</svg>
</body></html>
